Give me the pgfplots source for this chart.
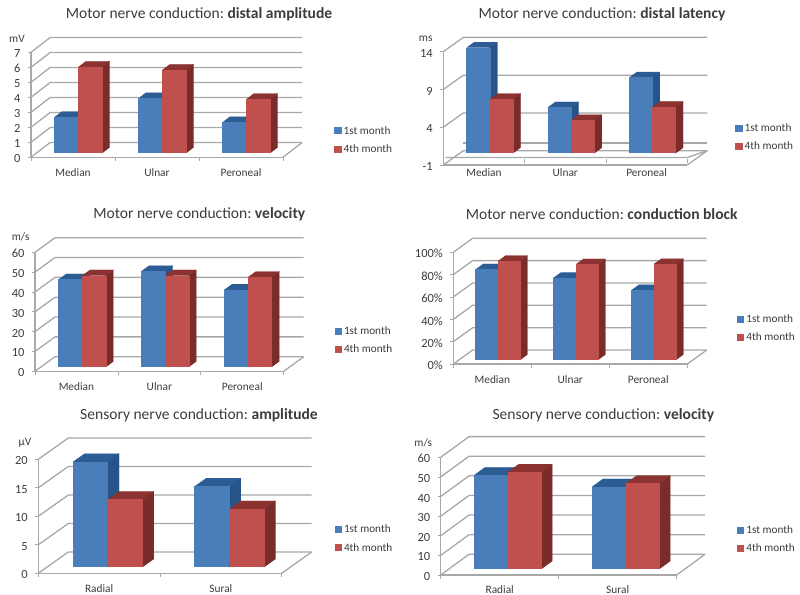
\documentclass[border=0pt]{standalone}
\usepackage{fontspec}
\setmainfont{Carlito}
\usepackage{pgfplots}
\pgfplotsset{compat=1.18}

\definecolor{bf}{RGB}{74,126,187}
\definecolor{bs}{RGB}{38,84,136}
\definecolor{bt}{RGB}{44,92,148}
\definecolor{rf}{RGB}{192,80,77}
\definecolor{rs}{RGB}{122,44,42}
\definecolor{rt}{RGB}{140,50,48}
\definecolor{gl}{RGB}{168,168,168}
\definecolor{tx}{RGB}{60,60,60}

\pgfplotsset{
  panel/.style n args={4}{
    scale only axis, width=#3bp, height=#4bp,
    at={(#1bp,{595bp-#2bp})}, anchor=south west,
    clip=false, no markers,
    axis lines=left, axis line style={-,gl,line width=1.2bp},
    tick align=outside, major tick length=3bp, minor tick length=4bp,
    major x tick style={draw=none},
    minor x tick style={gl,line width=.8bp},
    y tick style={gl,line width=.8bp},
    x tick label style={font=\fontsize{11.4}{12}\selectfont,text=tx},
    y tick label style={font=\fontsize{12.5}{13}\selectfont,text=tx},
    /pgf/number format/assume math mode=true,
    yticklabel style={anchor=east,xshift=-4bp,yshift=-1.5bp},
    legend cell align=left,
    legend image code/.code={\path[##1,draw=none] (0bp,-3.5bp) rectangle (7.5bp,3.5bp);},
    legend style={draw=none,fill=none,anchor=west,inner sep=0pt,row sep=9bp,
      font=\fontsize{11.3}{12}\selectfont,text=tx,
      nodes={inner xsep=2bp,inner ysep=0pt}},
  },
  gridline/.style={gl,line width=1.3bp,forget plot},
}

% depth of the box: px in x, px in y, categories, width, y range, height
\newcommand{\setdepth}[6]{%
  \pgfmathsetmacro\dX{#1*#3/#4}%
  \pgfmathsetmacro\dY{#2*#5/#6}%
  \def\ncat{#3}%
}
\newcommand{\wallgrid}[1]{%
  \foreach \v in {#1}{%
    \pgfmathsetmacro\gY{\v+\dY}%
    \pgfmathsetmacro\gX{\ncat+\dX}%
    \addplot[gridline] coordinates {(0,\v)(\dX,\gY)(\gX,\gY)};
  }%
}
\newcommand{\flooredge}[1]{%
  \pgfmathsetmacro\gY{#1+\dY}%
  \pgfmathsetmacro\gX{\ncat+\dX}%
  \addplot[gridline] coordinates {(\ncat,#1)(\gX,\gY)};
}
% left, right, value, front, side, top
\newcommand{\onebar}[6]{%
  \pgfmathsetmacro\yB{.28*\dY}%
  \pgfmathsetmacro\yT{#3+.28*\dY}%
  \pgfmathsetmacro\yBd{\yB+.385*\dY}%
  \pgfmathsetmacro\yTd{\yT+.385*\dY}%
  \pgfmathsetmacro\xLd{#1+.385*\dX}%
  \pgfmathsetmacro\xRd{#2+.385*\dX}%
  \addplot[fill=#6,draw=#6,line width=.1bp,forget plot] coordinates {(#1,\yT)(#2,\yT)(\xRd,\yTd)(\xLd,\yTd)};
  \addplot[fill=#5,draw=#5,line width=.1bp,forget plot] coordinates {(#2,\yB)(#2,\yT)(\xRd,\yTd)(\xRd,\yBd)};
  \addplot[fill=#4,draw=#4,line width=.1bp,forget plot] coordinates {(#1,\yB)(#1,\yT)(#2,\yT)(#2,\yB)};
}
% category index, 1st month, 4th month
\newcommand{\barpair}[3]{%
  \pgfmathsetmacro\xAA{#1+18/84+.28*\dX}%
  \pgfmathsetmacro\xBB{\xAA+24/84}%
  \pgfmathsetmacro\xCC{\xBB+24/84}%
  \onebar{\xAA}{\xBB}{#2}{bf}{bs}{bt}%
  \onebar{\xBB}{\xCC}{#3}{rf}{rs}{rt}%
}
\newcommand{\months}{%
  \addlegendimage{fill=bf}\addlegendentry{1st month}
  \addlegendimage{fill=rf}\addlegendentry{4th month}
}
\newcommand{\txt}[4][11.4]{\node[font=\fontsize{#1}{#1}\selectfont,text=tx,inner sep=0pt] at (#2bp,{595bp-#3bp}) {#4};}

\begin{document}
\begin{tikzpicture}
\path[use as bounding box] (0bp,0bp) rectangle (800bp,595bp);

% motor: distal amplitude
\begin{axis}[panel={31}{157.3}{252}{105},
  xmin=0,xmax=3,ymin=0,ymax=7,ytick={0,1,...,7},
  xtick={0.5,1.5,2.5},xticklabels={Median,Ulnar,Peroneal},minor xtick={0,1,2,3},
  xticklabel style={anchor=center,yshift=-12.7bp},
  legend style={at={({(334-31)/252},{(157.3-140)/105})}}]
\setdepth{19}{14.7}{3}{252}{7}{105}
\wallgrid{0,1,2,3,4,5,6,7}
\flooredge{0}
\barpair{0}{2.4}{5.75}
\barpair{1}{3.65}{5.55}
\barpair{2}{2.05}{3.6}
\months
\end{axis}

% motor: distal latency
\begin{axis}[panel={443.3}{165}{244}{113.3},
  xmin=0,xmax=3,ymin=-1,ymax=14,ytick={-1,4,9,14},
  xtick={0.5,1.5,2.5},xticklabels={Median,Ulnar,Peroneal},minor xtick={0,1,2,3},
  minor x tick style={yshift=6bp},
  xticklabel style={anchor=center,yshift=-5bp},
  legend style={at={({(735-443.3)/244},{(165-137.2)/113.3})}}]
\setdepth{20}{14.3}{3}{244}{15}{113.3}
\wallgrid{-1,4,9,14}
\flooredge{-1}
\pgfmathsetmacro\gY{0+\dY}
\pgfmathsetmacro\gX{3+\dX}
\addplot[gridline] coordinates {(\dX,\gY)(\gX,\gY)};
\addplot[gridline] coordinates {(0.03,0)(3,0)(\gX,0.89)};
\barpair{0}{14.0}{7.2}
\barpair{1}{6.1}{4.4}
\barpair{2}{10.05}{6.15}
\months
\end{axis}

% motor: velocity
\begin{axis}[panel={35}{371.3}{248.7}{119},
  xmin=0,xmax=3,ymin=0,ymax=60,ytick={0,10,...,60},
  xtick={0.5,1.5,2.5},xticklabels={Median,Ulnar,Peroneal},minor xtick={0,1,2,3},
  xticklabel style={anchor=center,yshift=-12.2bp},
  legend style={at={({(334.3-35)/248.7},{(371.3-340.3)/119})}}]
\setdepth{20}{14.6}{3}{248.7}{60}{119}
\wallgrid{0,10,20,30,40,50,60}
\flooredge{0}
\barpair{0}{44.2}{46.2}
\barpair{1}{48.4}{46.2}
\barpair{2}{39}{45.4}
\months
\end{axis}

% motor: conduction block
\begin{axis}[panel={453.3}{364}{234}{111.7},
  xmin=0,xmax=3,ymin=0,ymax=100,ytick={0,20,...,100},
  yticklabel={\pgfmathprintnumber{\tick}\%},
  xtick={0.5,1.5,2.5},xticklabels={Median,Ulnar,Peroneal},minor xtick={0,1,2,3},
  xticklabel style={anchor=center,yshift=-12.5bp},
  legend style={at={({(736.7-453.3)/234},{(364-328.2)/111.7})}}]
\setdepth{19.4}{14}{3}{234}{100}{111.7}
\wallgrid{0,20,40,60,80,100}
\flooredge{0}
\barpair{0}{81.2}{88.6}
\barpair{1}{73.7}{85.7}
\barpair{2}{62.7}{86}
\months
\end{axis}

% sensory: amplitude
\begin{axis}[panel={38.3}{573.3}{243.4}{114},
  xmin=0,xmax=2,ymin=0,ymax=20,ytick={0,5,...,20},
  xtick={0.5,1.5},xticklabels={Radial,Sural},minor xtick={0,1,2},
  xticklabel style={anchor=center,yshift=-12.2bp},
  legend style={at={({(334.3-38.3)/243.4},{(573.3-538.8)/114})}}]
\setdepth{30}{21.3}{2}{243.4}{20}{114}
\wallgrid{0,5,10,15,20}
\flooredge{0}
\barpair{0}{18.5}{11.9}
\barpair{1}{14.2}{10.2}
\months
\end{axis}

% sensory: velocity
\begin{axis}[panel={440.7}{575}{236}{117.7},
  xmin=0,xmax=2,ymin=0,ymax=60,ytick={0,10,...,60},
  xtick={0.5,1.5},xticklabels={Radial,Sural},minor xtick={0,1,2},
  xticklabel style={anchor=center,yshift=-11.3bp},
  legend style={at={({(736.7-440.7)/236},{(575-539.5)/117.7})}}]
\setdepth{28.3}{20.7}{2}{236}{60}{117.7}
\wallgrid{0,10,20,30,40,50,60}
\flooredge{0}
\barpair{0}{47.9}{49.5}
\barpair{1}{42}{43.7}
\months
\end{axis}

\txt[15.6]{199}{14}{Motor nerve conduction:\ \textbf{distal amplitude}}
\txt[15.6]{602}{14}{Motor nerve conduction:\ \textbf{distal latency}}
\txt[15.6]{199.3}{214}{Motor nerve conduction:\ \textbf{velocity}}
\txt[15.6]{601.7}{214}{Motor nerve conduction:\ \textbf{conduction block}}
\txt[15.6]{199}{415}{Sensory nerve conduction:\ \textbf{amplitude}}
\txt[15.6]{603.3}{415}{Sensory nerve conduction:\ \textbf{velocity}}
\txt{17}{38.5}{mV}
\txt{425.7}{38.7}{ms}
\txt{20.7}{237}{m/s}
\txt{25}{443}{µV}
\txt{423.3}{443}{m/s}
\end{tikzpicture}
\end{document}
